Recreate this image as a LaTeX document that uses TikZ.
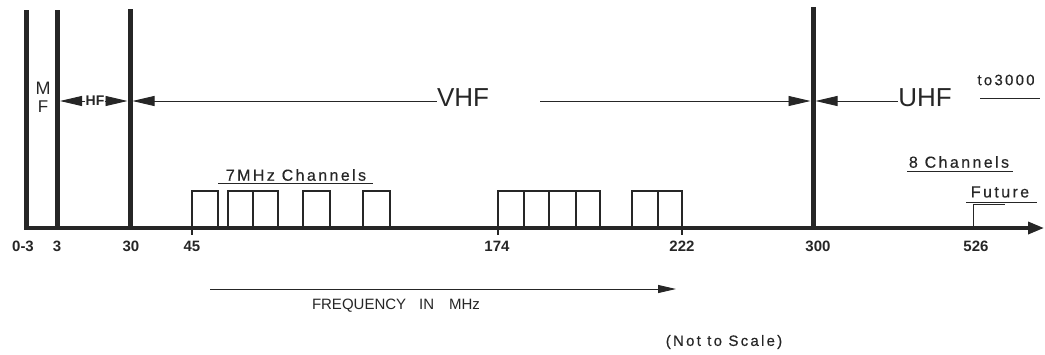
\documentclass[tikz,border=0pt]{standalone}
\usepackage{fontspec}
\setmainfont{Liberation Sans}
\newfontfamily\widesf[LetterSpace=15,FakeBold=0.5]{Liberation Sans}
\usepackage{tikz}
\usetikzlibrary{arrows.meta,positioning}
\definecolor{ink}{HTML}{262626}

\begin{document}
\begin{tikzpicture}[x=1pt,y=-1pt,
  every node/.style={text=ink, inner sep=0pt},
  bar/.style={draw=ink, line width=5pt},
  axisline/.style={draw=ink, line width=3.5pt, -{Triangle[length=16pt,width=12pt]}},
  chan/.style={draw=ink, line width=1.1pt},
  band/.style={draw=ink, line width=0.9pt, -{Triangle[length=22pt,width=10pt]}},
  farr/.style={draw=ink, line width=0.9pt, -{Triangle[length=18pt,width=8pt]}},
  uline/.style={draw=ink, line width=0.9pt},
  mhz/.style={font=\bfseries\fontsize{15}{17}\selectfont},
  spaced/.style={font=\widesf\fontsize{16}{18}\selectfont},
  bandname/.style={font=\fontsize{26}{30}\selectfont},
]
\useasboundingbox (0,0) rectangle (1045,354);

% Band edges
\foreach \x/\t in {26/10, 57/10, 130/9, 813/7}
  \draw[bar] (\x,\t) -- (\x,228);

% Frequency axis
\draw[axisline] (24,228) -- (1044,228);

% 7 MHz channels
\foreach \a/\b in {192/218, 228/253, 253/278, 303/330, 363/390,
                   498/524, 524/549, 549/576, 576/600, 632/658, 658/682}
  \draw[chan] (\a,228) rectangle (\b,191);
\foreach \x in {192,498,682}
  \draw[chan] (\x,228) -- (\x,235);

% Axis values
\foreach \x/\f [count=\i] in {23/0-3, 57/3, 131/30, 192/45, 497/174, 682/222, 818/300, 976/526}
  \node[mhz] (v\i) at (\x,246) {\f};

% Band names
\node[font=\fontsize{18}{20}\selectfont] (mf1) at (43,88) {M};
\node[font=\fontsize{17}{20}\selectfont] (mf2) at (43,107) {F};
\node[font=\bfseries\fontsize{14}{16}\selectfont] (hf) at (95,101) {HF};
\node[bandname] (vhf) at (463,98) {VHF};
\node[bandname] (uhf) at (925,98) {UHF};
\node[spaced, font=\widesf\fontsize{15}{17}\selectfont] (top) at (1006,80) {to3000};

\coordinate (hfL) at (60,101);
\coordinate (hfR) at (127.5,101);
\coordinate (vhfL) at (132.5,101);
\coordinate (vhfS) at (540,101);
\coordinate (vhfR) at (810.5,101);
\coordinate (uhfL) at (815.5,101);

\draw[band] (hf.west) -- (hfL);
\draw[band] (hf.east) -- (hfR);
\draw[band] (vhf.west |- vhfS) -- (vhfL);
\draw[band] (vhfS) -- (vhfR);
\draw[band] (uhf.west |- uhfL) -- (uhfL);
\draw[uline] (980,98) -- (1040,98);

% Channel notes
\node[spaced] (ch7) at (296,175) {7MHz Channels};
\draw[uline] (218,183) -- (373,183);
\node[spaced] (ch8) at (959,162) {8 Channels};
\draw[uline] (907,171) -- (1013,171);
\node[spaced] (fut) at (1000,192) {Future};
\draw[uline] (966,202) -- (1037,202);
\draw[uline] (973,228) -- (973,204) -- (1005,204);

% Direction of frequency
\coordinate (fs) at (210,289);
\coordinate (fe) at (676,289);
\draw[farr] (fs) -- (fe);
\node[font=\fontsize{15}{18}\selectfont] (freq) at (396,306) {FREQUENCY\hspace{13pt}IN\hspace{15pt}MHz};

\node[spaced, font=\widesf\fontsize{15}{17}\selectfont] (nts) at (724,342) {(Not to Scale)};

\end{tikzpicture}
\end{document}
